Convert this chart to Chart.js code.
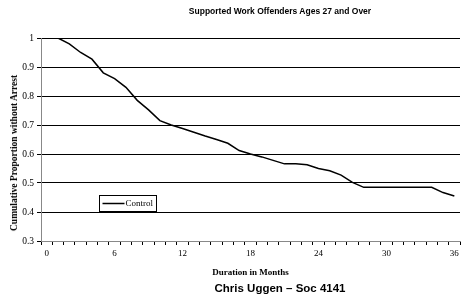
<!DOCTYPE html>
<html>
<head>
<meta charset="utf-8">
<script src="https://cdn.jsdelivr.net/npm/chart.js@4"></script>
<style>
  body { margin: 0; background: #fff; }
  #wrap { position: relative; width: 462px; height: 302px; overflow: hidden; }
  #chart { position: absolute; left: 0; top: 0; }
  .txt { position: absolute; white-space: nowrap; color: #000; }
  #title { left: 280px; top: 6px; transform: translateX(-50%); font: bold 8.5px "Liberation Sans", Arial, sans-serif; }
  #footer { left: 280px; top: 282px; transform: translateX(-50%); font: bold 11.5px "Liberation Sans", Arial, sans-serif; }
  #ytitle { left: 14px; top: 153px; transform: translate(-50%, -50%) rotate(-90deg); font: bold 9.5px "Liberation Serif", "Times New Roman", serif; }
</style>
</head>
<body>
<div id="wrap">
  <canvas id="chart" width="462" height="302"></canvas>
  <div class="txt" id="title">Supported Work Offenders Ages 27 and Over</div>
  <div class="txt" id="ytitle">Cumulative Proportion without Arrest</div>
  <div class="txt" id="footer">Chris Uggen – Soc 4141</div>
</div>
<script>
// 月 (0〜36)
const months = [0, 1, 2, 3, 4, 5, 6, 7, 8, 9, 10, 11, 12, 13, 14, 15, 16, 17, 18,
  19, 20, 21, 22, 23, 24, 25, 26, 27, 28, 29, 30, 31, 32, 33, 34, 35, 36];

// Control 群の累積割合
const controlValues = [1.0, 1.0, 0.98, 0.95, 0.927, 0.88, 0.86, 0.83, 0.785, 0.752,
  0.715, 0.70, 0.688, 0.675, 0.662, 0.65, 0.637, 0.612, 0.60, 0.59, 0.578, 0.566,
  0.566, 0.563, 0.55, 0.542, 0.527, 0.502, 0.485, 0.485, 0.485, 0.485, 0.485,
  0.485, 0.485, 0.467, 0.455];

// 表示する x 軸ラベル
const xTickLabels = [0, 6, 12, 18, 24, 30, 36];
const seriesName = "Control";

const serif = "'Liberation Serif', 'Times New Roman', serif";

// 凡例 (プロット内のボックス)
const boxLegend = {
  id: "boxLegend",
  afterDraw(chart) {
    const ctx = chart.ctx;
    const x = 99.5, y = 195.5, w = 57, h = 16;
    ctx.save();
    ctx.fillStyle = "#fff";
    ctx.fillRect(x, y, w, h);
    ctx.strokeStyle = "#000";
    ctx.lineWidth = 1;
    ctx.strokeRect(x, y, w, h);
    ctx.lineWidth = 1.5;
    ctx.beginPath();
    ctx.moveTo(x + 3, y + 8);
    ctx.lineTo(x + 25, y + 8);
    ctx.stroke();
    ctx.fillStyle = "#000";
    ctx.font = "9px " + serif;
    ctx.textBaseline = "middle";
    ctx.fillText(seriesName, x + 26, y + 8.5);
    ctx.restore();
  }
};

new Chart(document.getElementById("chart"), {
  type: "line",
  data: {
    labels: months,
    datasets: [{
      label: seriesName,
      data: controlValues,
      borderColor: "#000",
      borderWidth: 1.5,
      pointRadius: 0,
      tension: 0,
      fill: false
    }]
  },
  options: {
    responsive: false,
    animation: false,
    layout: { padding: { top: 38, right: 2, bottom: 21, left: 0 } },
    plugins: {
      legend: { display: false },
      title: { display: false },
      tooltip: { enabled: false }
    },
    scales: {
      x: {
        type: "category",
        offset: true,
        afterFit: (scale) => { scale.height = 40; },
        grid: { drawOnChartArea: false, drawTicks: true, tickLength: 4, color: "#000", offset: true },
        border: { color: "#888", width: 1 },
        ticks: {
          autoSkip: false,
          maxRotation: 0,
          padding: 3,
          color: "#000",
          font: { family: serif, size: 9 },
          callback: function (value, index) {
            const m = months[index];
            return xTickLabels.includes(m) ? String(m) : "";
          }
        },
        title: {
          display: true,
          text: "Duration in Months",
          color: "#000",
          font: { family: serif, size: 9, weight: "bold" },
          padding: { top: 0, bottom: 3 }
        }
      },
      y: {
        min: 0.3,
        max: 1,
        afterFit: (scale) => { scale.width = 41; },
        grid: { color: "#000", lineWidth: 1, tickLength: 4 },
        border: { color: "#888", width: 1 },
        ticks: {
          stepSize: 0.1,
          padding: 3,
          color: "#000",
          font: { family: serif, size: 9.5 },
          callback: (v) => String(Math.round(v * 10) / 10)
        }
      }
    }
  },
  plugins: [boxLegend]
});
</script>
</body>
</html>
